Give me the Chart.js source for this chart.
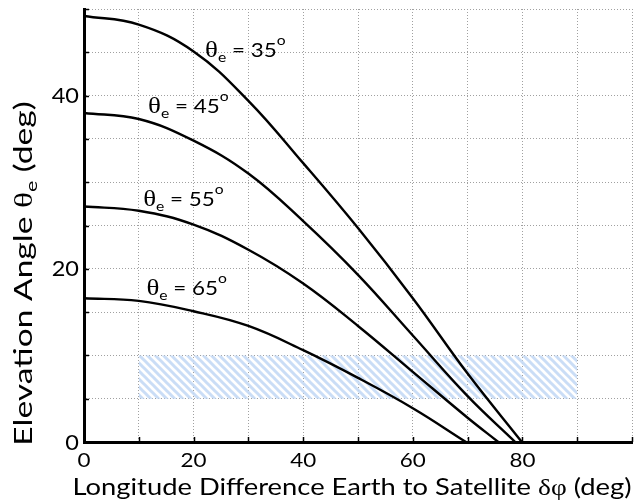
<!DOCTYPE html>
<html>
<head>
<meta charset="utf-8">
<script src="https://cdn.jsdelivr.net/npm/chart.js@4.4.1/dist/chart.umd.min.js"></script>
<style>
  body { margin: 0; background: #fff; }
  canvas { display: block; }
</style>
</head>
<body>
<canvas id="elevationChart" width="634" height="501"></canvas>
<script>
// values: longitude difference (deg) -> elevation angle (deg)
const lonPoints = [0, 10, 20, 30, 40, 50, 60, 70];
const elev35 = [49.2, 48.2, 45.1, 39.4, 32.2, 24.7, 16.6, 7.9];
const elev45 = [38.0, 37.3, 34.8, 31.0, 25.5, 19.3, 12.3, 5.3];
const elev55 = [27.2, 26.7, 25.1, 22.2, 18.3, 13.4, 8.1, 2.8];
const elev65 = [16.6, 16.3, 15.1, 13.4, 10.6, 7.4, 3.9];
// longitude where each curve hits 0 deg elevation
const horizonLon = [79.9, 78.7, 75.6, 69.7];
const latLabels = ['35', '45', '55', '65'];
// hatched band
const bandLon = [10, 90];
const bandElev = [5, 10];
// labelled ticks
const xLabelTicks = [0, 20, 40, 60, 80];
const yLabelTicks = [0, 20, 40];

const FONT = 'Lato';
const SYM = '"Liberation Serif"';

function curve(values, endLon) {
    const pts = values.map((v, i) => ({ x: lonPoints[i], y: v }));
    pts.push({ x: endLon, y: 0 });
    return pts;
}

function hatchPattern() {
    const c = document.createElement('canvas');
    c.width = 8;
    c.height = 8;
    const g = c.getContext('2d');
    g.strokeStyle = 'rgba(196, 217, 245, 0.9)';
    g.lineWidth = 3;
    g.beginPath();
    g.moveTo(-2, -2); g.lineTo(10, 10);
    g.moveTo(-2, 6); g.lineTo(2, 10);
    g.moveTo(6, -2); g.lineTo(10, 2);
    g.stroke();
    return g.createPattern(c, 'repeat');
}

// draws a row of [text, font, dy] pieces, stretched horizontally by sx
function drawRuns(ctx, runs, x, y, sx, align) {
    ctx.save();
    ctx.translate(x, y);
    ctx.scale(sx, 1);
    let w = 0;
    runs.forEach(r => { ctx.font = r[1]; w += ctx.measureText(r[0]).width; });
    let cx = 0;
    if (align === 'center') cx = -w / 2;
    if (align === 'right') cx = -w;
    runs.forEach(r => {
        ctx.font = r[1];
        ctx.fillText(r[0], cx, r[2] || 0);
        cx += ctx.measureText(r[0]).width;
    });
    ctx.restore();
}

// label anchors (data units, left edge / baseline)
const labelAnchors = [[22.1, 44.4], [11.7, 38.0], [10.8, 27.3], [11.4, 17.0]];

const decorations = {
    id: 'decorations',
    afterDraw(chart) {
        const ctx = chart.ctx;
        const xs = chart.scales.x;
        const ys = chart.scales.y;
        const area = chart.chartArea;
        ctx.save();

        // inward tick marks
        ctx.strokeStyle = '#000';
        ctx.lineWidth = 1.5;
        ctx.beginPath();
        xs.ticks.forEach(t => {
            const px = Math.round(xs.getPixelForValue(t.value)) + 0.5;
            ctx.moveTo(px, area.bottom);
            ctx.lineTo(px, area.bottom - 5);
        });
        ys.ticks.forEach(t => {
            const py = Math.round(ys.getPixelForValue(t.value)) + 0.5;
            ctx.moveTo(area.left, py);
            ctx.lineTo(area.left + 5, py);
        });
        ctx.stroke();

        ctx.fillStyle = '#000';
        ctx.textBaseline = 'alphabetic';
        ctx.textAlign = 'left';

        // tick labels
        xLabelTicks.forEach(v => {
            drawRuns(ctx, [[String(v), `20px ${FONT}`]], xs.getPixelForValue(v), area.bottom + 25, 1.12, 'center');
        });
        yLabelTicks.forEach(v => {
            drawRuns(ctx, [[String(v), `21px ${FONT}`]], area.left - 5, ys.getPixelForValue(v) + 7.5, 1.12, 'right');
        });

        // curve labels
        latLabels.forEach((lat, i) => {
            const px = xs.getPixelForValue(labelAnchors[i][0]);
            const py = ys.getPixelForValue(labelAnchors[i][1]);
            drawRuns(ctx, [
                ['\u03B8', `24px ${SYM}`],
                ['e', `14px ${FONT}`, 5],
                [' = ' + lat, `20px ${FONT}`],
                ['o', `14px ${FONT}`, -12]
            ], px, py, 1.12, 'left');
        });

        // x axis title
        drawRuns(ctx, [
            ['Longitude Difference Earth to Satellite ', `24px ${FONT}`],
            ['\u03B4\u03C6', `24px ${SYM}`],
            [' (deg)', `24px ${FONT}`]
        ], 352, 495, 1.14, 'center');

        // y axis title
        ctx.translate(31.5, 273.5);
        ctx.rotate(-Math.PI / 2);
        drawRuns(ctx, [
            ['Elevation Angle ', `25px ${FONT}`],
            ['\u03B8', `25px ${SYM}`],
            ['e', `16px ${FONT}`, 5],
            [' (deg)', `25px ${FONT}`]
        ], 0, 0, 1.34, 'center');

        ctx.restore();
    }
};

const curveStyle = {
    borderColor: '#000',
    borderWidth: 2.4,
    pointRadius: 0,
    tension: 0.4,
    fill: false
};

const ctx = document.getElementById('elevationChart').getContext('2d');
new Chart(ctx, {
    type: 'line',
    data: {
        datasets: [
            { ...curveStyle, label: '35', data: curve(elev35, horizonLon[0]) },
            { ...curveStyle, label: '45', data: curve(elev45, horizonLon[1]) },
            { ...curveStyle, label: '55', data: curve(elev55, horizonLon[2]) },
            { ...curveStyle, label: '65', data: curve(elev65, horizonLon[3]) },
            {
                label: 'band',
                data: [{ x: bandLon[0], y: bandElev[1] }, { x: bandLon[1], y: bandElev[1] }],
                borderWidth: 0,
                pointRadius: 0,
                fill: { value: bandElev[0] },
                backgroundColor: hatchPattern(),
                order: 1
            }
        ]
    },
    options: {
        responsive: false,
        animation: false,
        events: [],
        layout: { padding: { top: 9, right: 2, left: 0, bottom: 0 } },
        plugins: {
            legend: { display: false },
            tooltip: { enabled: false }
        },
        scales: {
            x: {
                type: 'linear',
                min: 0,
                max: 100,
                afterFit: s => { s.height = 59; s.paddingLeft = 0; s.paddingRight = 0; },
                ticks: { stepSize: 10, autoSkip: false, display: false },
                grid: { color: '#a0a0a0', lineWidth: 1, drawTicks: false },
                border: { color: '#000', width: 3, dash: [1, 2] }
            },
            y: {
                min: 0,
                max: 50,
                afterFit: s => { s.width = 84; s.paddingTop = 0; s.paddingBottom = 0; },
                ticks: { stepSize: 5, autoSkip: false, display: false },
                grid: { color: '#a0a0a0', lineWidth: 1, drawTicks: false },
                border: { color: '#000', width: 3, dash: [1, 2] }
            }
        }
    },
    plugins: [decorations]
});
</script>
</body>
</html>
